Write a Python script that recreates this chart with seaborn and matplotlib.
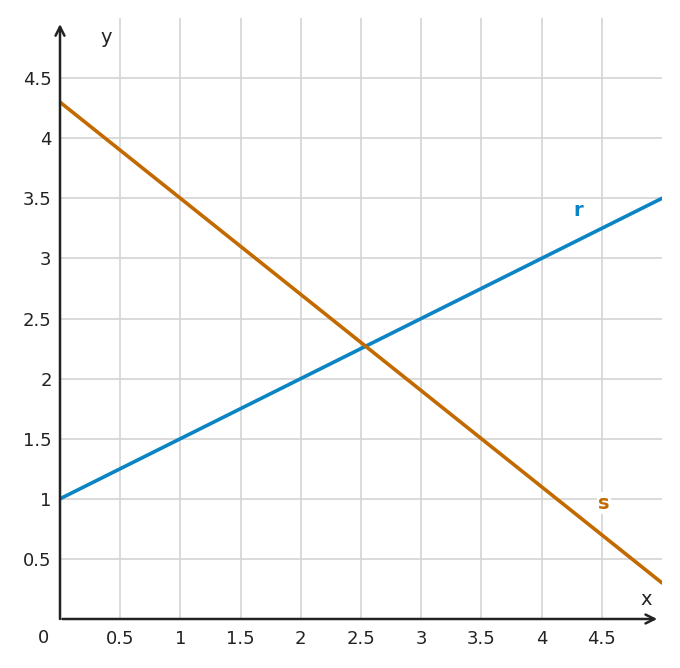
import numpy as np
import pandas as pd
import matplotlib.pyplot as plt
import seaborn as sns

# line data: r(x) = 0.5x + 1, s(x) = 4.3 - 0.8x  (end points)
x_vals = [0, 5]
r_vals = [1.0, 3.5]
s_vals = [4.3, 0.3]
ticks = [0.5, 1, 1.5, 2, 2.5, 3, 3.5, 4, 4.5]
tick_labels = ["0.5", "1", "1.5", "2", "2.5", "3", "3.5", "4", "4.5"]

blue = "#0a84c4"
orange = "#c26a00"
axis_col = "#222222"

sns.set_style("white")
plt.rcParams["font.family"] = ["DejaVu Sans"]

fig = plt.figure(figsize=(6.8, 6.68), dpi=100)
ax = fig.add_axes([60 / 680, 49 / 668, 602 / 680, 601 / 668])

df = pd.DataFrame({"x": x_vals + x_vals,
                   "y": r_vals + s_vals,
                   "line": ["r", "r", "s", "s"]})
sns.lineplot(data=df, x="x", y="y", hue="line", palette=[blue, orange],
             linewidth=2.6, legend=False, ax=ax, zorder=3)

ax.set_xlim(0, 5)
ax.set_ylim(0, 5)
for sp in ax.spines.values():
    sp.set_visible(False)

# grid
for t in ticks:
    ax.axvline(t, color="#d4d4d4", lw=1.2, zorder=1)
    ax.axhline(t, color="#d4d4d4", lw=1.2, zorder=1)

# axes with arrows
ax.annotate("", xy=(0, 4.95), xytext=(0, 0),
            arrowprops=dict(arrowstyle="->", color=axis_col, lw=1.8,
                            mutation_scale=16, shrinkA=0, shrinkB=0),
            annotation_clip=False, zorder=4)
ax.annotate("", xy=(4.96, 0), xytext=(0.02, 0),
            arrowprops=dict(arrowstyle="->", color=axis_col, lw=1.8,
                            mutation_scale=16, shrinkA=0, shrinkB=0),
            annotation_clip=False, zorder=4)

ax.set_xticks(ticks)
ax.set_yticks(ticks)
ax.set_xticklabels(tick_labels)
ax.set_yticklabels(tick_labels)
ax.tick_params(axis="both", direction="in", length=5, width=1.8,
               color=axis_col, labelsize=13, labelcolor="#222222")
ax.tick_params(axis="x", pad=8)
ax.tick_params(axis="y", pad=6)
ax.set_xlabel("")
ax.set_ylabel("")

ax.text(-0.14, -0.16, "0", fontsize=13, color="#222222", ha="center", va="center")
ax.text(0.38, 4.84, "y", fontsize=14, color="#222222", ha="center", va="center")
ax.text(4.87, 0.16, "x", fontsize=14, color="#222222", ha="center", va="center")

ax.text(4.3, 3.4, "r", fontsize=14, fontweight="bold", color=blue,
        ha="center", va="center", zorder=5)
ax.text(4.52, 0.965, "s", fontsize=14, fontweight="bold", color=orange,
        ha="center", va="center", zorder=5,
        bbox=dict(facecolor="white", edgecolor="none", pad=1))

fig.savefig("out.png", dpi=100)
